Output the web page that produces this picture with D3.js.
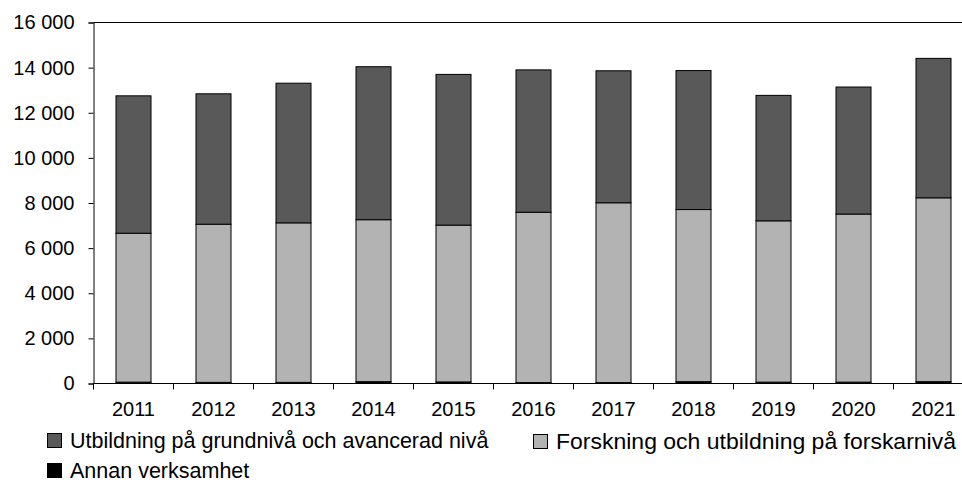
<!DOCTYPE html>
<html>
<head>
<meta charset="utf-8">
<script src="https://cdn.jsdelivr.net/npm/d3@7"></script>
<style>
  html, body { margin: 0; padding: 0; background: #fff; }
  svg { display: block; font-family: "Liberation Sans", Arial, sans-serif; }
</style>
</head>
<body>
<svg id="chart" width="962" height="483"></svg>
<script>
// Years on the category axis
const years = ["2011", "2012", "2013", "2014", "2015", "2016", "2017", "2018", "2019", "2020", "2021"];

// Series values, stacked from the bottom up
const annanVerksamhet = [60, 50, 50, 80, 70, 40, 40, 80, 60, 60, 80];
const forskning = [6600, 7010, 7070, 7180, 6950, 7550, 7970, 7630, 7150, 7450, 8150];
const utbildning = [6090, 5780, 6190, 6780, 6680, 6310, 5850, 6160, 5560, 5630, 6180];

const seriesNames = [
  "Annan verksamhet",
  "Forskning och utbildning på forskarnivå",
  "Utbildning på grundnivå och avancerad nivå"
];
const seriesColors = ["#000000", "#b3b3b3", "#595959"];

// Y axis ticks
const yTicks = [0, 2000, 4000, 6000, 8000, 10000, 12000, 14000, 16000];

const svg = d3.select("#chart");

const plot = { left: 93.5, top: 22.5, bottom: 383.5, right: 973.5 };

const rows = years.map((y, i) => ({
  year: y,
  a: annanVerksamhet[i],
  f: forskning[i],
  u: utbildning[i]
}));
const keys = ["a", "f", "u"];
const stacked = d3.stack().keys(keys)(rows);

const x = d3.scaleBand()
  .domain(years)
  .range([plot.left, plot.right])
  .paddingInner(0.5625)
  .paddingOuter(0.28125);

const y = d3.scaleLinear()
  .domain([0, 16000])
  .range([plot.bottom, plot.top]);

const fmt = v => d3.format(",")(v).replace(/,/g, " ");

// Bars
svg.append("g")
  .selectAll("g")
  .data(stacked)
  .join("g")
  .attr("fill", (d, i) => seriesColors[i])
  .selectAll("rect")
  .data(d => d)
  .join("rect")
  .attr("x", d => x(d.data.year))
  .attr("y", d => y(d[1]))
  .attr("width", x.bandwidth())
  .attr("height", d => y(d[0]) - y(d[1]))
  .attr("stroke", "#000")
  .attr("stroke-width", 1);

// Top frame line
svg.append("line")
  .attr("x1", plot.left).attr("x2", plot.right)
  .attr("y1", plot.top).attr("y2", plot.top)
  .attr("stroke", "#000").attr("stroke-width", 1);

// Y axis
const yAxis = svg.append("g")
  .attr("transform", `translate(${plot.left},0)`)
  .call(d3.axisLeft(y).tickValues(yTicks).tickFormat(fmt).tickSize(5).tickPadding(14));
yAxis.select(".domain").attr("stroke", "#000");
yAxis.selectAll(".tick line").attr("stroke", "#000");
yAxis.selectAll("text")
  .attr("font-size", 20)
  .attr("fill", "#000")
  .attr("font-family", "Liberation Sans, Arial, sans-serif");

// X axis with ticks on band boundaries
const xAxis = svg.append("g")
  .attr("transform", `translate(0,${plot.bottom})`);
xAxis.append("line")
  .attr("x1", plot.left).attr("x2", plot.right)
  .attr("y1", 0).attr("y2", 0)
  .attr("stroke", "#000");
const step = x.step();
const boundaries = years.map((yr, i) => x(yr) - (step - x.bandwidth()) / 2);
xAxis.selectAll("line.tk")
  .data(boundaries)
  .join("line")
  .attr("class", "tk")
  .attr("x1", d => d).attr("x2", d => d)
  .attr("y1", 0).attr("y2", 6)
  .attr("stroke", "#000");
xAxis.selectAll("text")
  .data(years)
  .join("text")
  .attr("x", d => x(d) + x.bandwidth() / 2)
  .attr("y", 32)
  .attr("text-anchor", "middle")
  .attr("font-size", 20)
  .attr("fill", "#000")
  .text(d => d);

// Legend
const legendItems = [
  { name: seriesNames[2], color: seriesColors[2], x: 47, y: 433, len: null },
  { name: seriesNames[1], color: seriesColors[1], x: 533, y: 434, len: 400 },
  { name: seriesNames[0], color: seriesColors[0], x: 47, y: 463, len: null }
];
const lg = svg.append("g")
  .selectAll("g")
  .data(legendItems)
  .join("g")
  .attr("transform", d => `translate(${d.x},${d.y})`);
lg.append("rect")
  .attr("x", 0.5).attr("y", 0.5)
  .attr("width", 14).attr("height", 14)
  .attr("fill", d => d.color)
  .attr("stroke", "#000")
  .attr("stroke-width", 1);
lg.append("text")
  .attr("x", 23)
  .attr("y", 15)
  .attr("font-size", 21.5)
  .attr("fill", "#000")
  .each(function (d) {
    if (d.len) d3.select(this).attr("textLength", d.len).attr("lengthAdjust", "spacingAndGlyphs");
  })
  .text(d => d.name);
</script>
</body>
</html>
